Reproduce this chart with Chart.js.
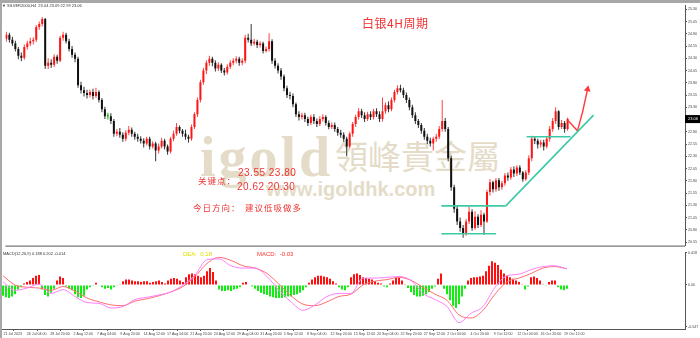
<!DOCTYPE html>
<html>
<head>
<meta charset="utf-8">
<script src="https://cdn.jsdelivr.net/npm/chart.js@4"></script>
<style>
body{margin:0;background:#fff;}
#wrap{position:relative;width:700px;height:338px;overflow:hidden;background:#fff;font-family:"Liberation Sans",Arial,sans-serif;}
#topbar{position:absolute;left:0;top:0;width:700px;height:3px;background:#a8a8a8;z-index:5}
#leftbar{position:absolute;left:0;top:0;width:2px;height:338px;background:#a8a8a8;z-index:5}
canvas{position:absolute;left:0;z-index:2}
#cMain{top:0}
#cMacd{top:251px}
.wm{position:absolute;color:#e4dcc8;z-index:1;white-space:nowrap}
.red{position:absolute;color:#f03434;z-index:3;white-space:nowrap;line-height:1;font-family:"Noto Sans CJK SC",sans-serif}
.num{font:10px/1 "Liberation Sans",sans-serif;letter-spacing:0.5px}
.tiny{position:absolute;z-index:3;white-space:nowrap;line-height:1}
</style>
</head>
<body>
<div id="wrap">
  <div id="topbar"></div>
  <div id="leftbar"></div>
  <div class="wm" style="left:200px;top:129px;font:bold 56px/1 'Liberation Serif',serif;letter-spacing:3px">igold</div>
  <div class="wm" style="left:335px;top:139px;font:33px/1 'Noto Sans CJK TC',sans-serif;">領峰貴金屬</div>
  <div class="wm" style="left:266px;top:179px;font:bold 20px/1 'Liberation Sans',sans-serif;">www.igoldhk.com</div>
  <canvas id="cMain" width="700" height="251"></canvas>
  <canvas id="cMacd" width="700" height="87"></canvas>
  <div class="tiny" style="left:2px;top:3.5px;font-size:4px;color:#333">▼ SILVER2000,H4&nbsp;&nbsp;23.04 23.09 22.99 23.06</div>
  <div class="red" style="left:362px;top:17px;font-size:12px;letter-spacing:0.5px">白银4H周期</div>
  <div class="red" style="left:198px;top:176px;font-size:8.5px;letter-spacing:1px">关键点：</div>
  <div class="red num" style="left:238px;top:167.5px">23.55 23.80</div>
  <div class="red num" style="left:237px;top:181.5px">20.62 20.30</div>
  <div class="red" style="left:193px;top:202.5px;font-size:8.5px;letter-spacing:1px">今日方向：</div>
  <div class="red" style="left:245px;top:202.5px;font-size:8.5px;letter-spacing:1px">建议低吸做多</div>
  <div class="tiny" style="left:3px;top:252px;font-size:4px;color:#333">MACD(12,26,9) 0.188 0.202 -0.014</div>
  <div class="tiny" style="left:183px;top:251px;font-size:6px;color:#e0e000">DEA:&nbsp;&nbsp;0.18</div>
  <div class="tiny" style="left:257px;top:251px;font-size:6px;color:#ff3030">MACD:&nbsp;&nbsp;-0.03</div>
</div>
<script>
// 4H candles (one entry per plotted candle), first open given separately
const firstOpen = 24.70;
const closes = [
  24.78,24.68,24.60,24.49,24.35,24.31,24.53,24.60,24.65,24.68,
  24.94,25.00,25.10,24.15,24.21,24.17,24.33,24.25,24.72,24.78,
  24.65,24.49,24.37,24.29,23.75,23.65,23.59,23.55,23.61,23.53,
  23.61,23.45,23.26,23.12,23.12,23.02,22.76,22.80,22.74,22.66,
  22.78,22.84,22.76,22.70,22.66,22.62,22.56,22.66,22.50,22.56,
  22.42,22.50,22.62,22.50,22.40,22.66,22.76,22.90,22.82,22.76,
  22.70,22.66,22.90,23.16,23.45,23.81,24.05,24.21,24.29,24.21,
  24.09,24.17,24.05,24.01,24.13,24.21,24.25,24.29,24.21,24.25,
  24.72,24.68,24.60,24.64,24.57,24.60,24.45,24.49,24.65,24.25,
  24.15,24.05,23.93,23.69,23.55,23.53,23.36,23.16,23.10,23.14,
  23.06,22.98,23.10,23.02,22.96,23.06,23.10,22.98,22.90,22.94,
  22.86,22.78,22.74,22.66,22.50,22.76,22.96,23.10,23.22,23.14,
  23.06,23.16,23.10,23.22,23.16,23.06,23.22,23.34,23.26,23.45,
  23.61,23.69,23.65,23.55,23.45,23.30,23.14,23.02,22.94,22.82,
  22.70,22.62,22.56,22.66,22.70,22.86,23.02,22.86,22.26,21.67,
  21.23,20.97,20.84,20.72,20.97,21.17,20.84,21.07,20.90,21.11,
  20.97,21.57,21.77,21.63,21.81,21.67,21.75,21.91,21.87,22.03,
  21.95,22.07,21.97,21.83,21.97,22.26,22.66,22.62,22.54,22.58,
  22.50,22.66,22.86,23.02,23.22,22.90,22.98,22.86,23.06
];
const highs = [
  24.84,24.82,24.74,24.66,24.53,24.42,24.58,24.66,24.72,24.73,
  24.98,25.05,25.14,25.12,24.30,24.28,24.38,24.37,24.76,24.84,
  24.82,24.70,24.55,24.42,24.33,23.82,23.72,23.66,23.66,23.68,
  23.70,23.65,23.49,23.31,23.19,23.18,23.06,22.86,22.88,22.79,
  22.83,22.92,22.89,22.80,22.76,22.71,22.67,22.70,22.70,22.61,
  22.60,22.56,22.68,22.66,22.54,22.70,22.82,22.98,22.93,22.86,
  22.84,22.74,22.95,23.20,23.50,23.86,24.10,24.26,24.35,24.33,
  24.26,24.22,24.20,24.10,24.18,24.26,24.30,24.34,24.33,24.30,
  24.78,24.80,25.00,24.70,24.68,24.65,24.64,24.54,24.81,24.69,
  24.30,24.20,24.10,23.97,23.74,23.62,23.58,23.40,23.22,23.19,
  23.19,23.11,23.15,23.16,23.07,23.12,23.16,23.14,23.03,22.99,
  22.99,22.90,22.84,22.79,22.70,22.80,23.00,23.15,23.28,23.27,
  23.20,23.21,23.22,23.27,23.28,23.22,23.50,23.40,23.42,23.50,
  23.66,23.75,23.76,23.70,23.60,23.50,23.35,23.20,23.06,22.98,
  22.88,22.76,22.68,22.70,22.76,22.92,23.45,23.08,22.90,22.31,
  21.72,21.30,21.05,20.90,21.02,21.28,21.22,21.18,21.12,21.20,
  21.15,21.62,21.84,21.80,21.86,21.86,21.80,21.96,21.97,22.08,
  22.10,22.12,22.12,22.00,22.02,22.32,22.72,22.70,22.66,22.64,
  22.64,22.70,22.92,23.08,23.30,23.24,23.04,23.02,23.09
];
const lows = [
  24.64,24.62,24.55,24.44,24.28,24.24,24.27,24.48,24.55,24.58,
  24.63,24.88,24.95,24.08,24.08,24.10,24.12,24.19,24.22,24.66,
  24.60,24.44,24.31,24.22,23.70,23.58,23.52,23.48,23.50,23.46,
  23.49,23.40,23.20,23.06,23.05,22.96,22.70,22.71,22.68,22.60,
  22.61,22.73,22.70,22.64,22.60,22.56,22.48,22.52,22.44,22.46,
  22.20,22.36,22.46,22.44,22.33,22.36,22.61,22.72,22.77,22.70,
  22.64,22.58,22.62,22.86,23.10,23.40,23.76,23.98,24.15,24.14,
  24.03,24.04,24.00,23.95,23.97,24.08,24.16,24.20,24.15,24.16,
  24.20,24.62,24.55,24.56,24.51,24.52,24.40,24.42,24.44,24.19,
  24.09,23.99,23.86,23.63,23.49,23.46,23.30,23.10,23.03,23.05,
  23.00,22.92,22.94,22.96,22.90,22.92,23.01,22.93,22.85,22.86,
  22.80,22.72,22.68,22.60,22.30,22.46,22.70,22.90,23.05,23.08,
  23.00,23.02,23.04,23.05,23.10,23.00,23.01,23.17,23.20,23.22,
  23.40,23.56,23.60,23.49,23.39,23.24,23.08,22.96,22.88,22.76,
  22.64,22.55,22.50,22.42,22.60,22.65,22.80,22.80,22.20,21.60,
  21.15,20.90,20.76,20.64,20.68,20.92,20.78,20.80,20.84,20.86,
  20.70,20.94,21.50,21.56,21.58,21.60,21.62,21.70,21.80,21.82,
  21.88,21.90,21.92,21.78,21.80,21.92,22.20,22.55,22.46,22.48,
  22.42,22.46,22.60,22.80,22.96,22.84,22.86,22.78,22.82
];

// MACD histogram, one per candle
const macdHist = [
  -0.14,-0.16,-0.17,-0.15,-0.12,-0.06,-0.03,0.02,0.04,0.06,
  0.09,0.12,0.13,-0.06,-0.13,-0.15,-0.10,-0.05,0.06,0.11,
  0.09,-0.02,-0.05,-0.07,-0.12,-0.16,-0.17,-0.14,-0.06,-0.03,
  -0.01,0.03,0.00,-0.03,-0.05,-0.04,-0.06,-0.03,-0.01,0.01,
  0.05,0.07,0.07,0.06,0.05,0.05,0.04,0.05,0.05,0.03,
  0.04,0.05,0.06,0.04,0.02,0.06,0.08,0.09,0.08,0.06,
  0.04,0.10,0.14,0.15,0.14,0.12,0.10,0.12,0.18,0.22,
  0.17,0.06,-0.06,-0.08,-0.08,-0.07,-0.08,-0.06,-0.05,-0.03,
  0.03,0.04,0.00,-0.02,-0.05,-0.08,-0.10,-0.12,-0.13,-0.15,
  -0.16,-0.17,-0.17,-0.17,-0.16,-0.15,-0.15,-0.13,-0.12,-0.10,
  -0.07,-0.03,0.03,0.07,0.10,0.12,0.12,0.11,0.10,0.08,
  0.05,0.02,-0.03,-0.06,-0.07,-0.03,0.10,0.14,0.15,0.13,
  0.10,0.09,0.08,0.07,0.05,0.03,0.02,-0.02,-0.03,0.02,
  0.06,0.09,0.09,0.06,0.01,-0.04,-0.09,-0.13,-0.15,-0.15,
  -0.14,-0.12,-0.09,-0.05,-0.02,0.08,0.15,-0.05,-0.12,-0.20,
  -0.27,-0.30,-0.25,-0.15,-0.05,0.06,0.09,0.10,0.10,0.11,
  0.12,0.18,0.25,0.31,0.29,0.26,0.20,0.15,0.12,0.10,
  0.08,0.06,0.04,0.01,-0.06,-0.02,0.10,0.11,0.09,0.06,
  0.01,-0.01,0.04,0.06,0.06,-0.03,-0.06,-0.07,-0.05
];
// MACD lines, read every 4th candle
const lineStep = 4;
const difLine = [
  0.04,-0.07,-0.04,0.01,-0.11,-0.06,-0.15,-0.23,-0.24,-0.30,
  -0.28,-0.19,-0.16,-0.13,-0.09,0.00,0.13,0.33,0.34,0.25,
  0.22,0.22,0.11,-0.07,-0.22,-0.33,-0.26,-0.15,-0.11,-0.11,
  0.09,0.09,0.10,0.11,0.06,-0.11,-0.19,-0.28,-0.49,-0.37,
  -0.28,-0.03,0.12,0.14,0.20,0.24,0.25,0.21
];
const deaLine = [
  0.12,0.00,-0.03,-0.04,-0.07,-0.02,-0.08,-0.17,-0.22,-0.26,
  -0.27,-0.21,-0.18,-0.14,-0.09,-0.02,0.11,0.28,0.36,0.32,
  0.25,0.22,0.15,0.01,-0.14,-0.25,-0.27,-0.22,-0.15,-0.12,
  0.00,0.05,0.07,0.10,0.06,-0.03,-0.12,-0.20,-0.39,-0.43,
  -0.33,-0.12,0.04,0.09,0.15,0.22,0.24,0.21
];

const priceTicks = [25.30,25.05,24.80,24.55,24.30,24.05,23.80,23.55,23.30,23.05,
  22.80,22.55,22.30,22.05,21.80,21.55,21.30,21.05,20.80,20.55];
const macdTicks = [0.418, 0, -0.547];
const macdTickLabels = ["0.418", "0.00", "-0.547"];
const timeLabels = ["21 Jul 2023","26 Jul 04:00","28 Jul 20:00","2 Aug 12:00","7 Aug 04:00",
  "9 Aug 20:00","14 Aug 12:00","17 Aug 04:00","21 Aug 20:00","24 Aug 12:00","29 Aug 04:00",
  "31 Aug 20:00","5 Sep 12:00","8 Sep 04:00","12 Sep 20:00","15 Sep 12:00","20 Sep 04:00",
  "22 Sep 20:00","27 Sep 12:00","2 Oct 04:00","4 Oct 20:00","9 Oct 12:00","12 Oct 04:00",
  "16 Oct 20:00","19 Oct 12:00"];

// drawn trend lines (candle index, price)
const boxTop = [[145.7,21.29],[167.3,21.29]];
const boxBottom = [[145.7,20.72],[164,20.72]];
const trendUp = [[167.3,21.29],[196.7,23.14]];
const resistLine = [[174.3,22.70],[189,22.70]];
const projection = [[188,23.04],[191.3,22.82],[193,23.20],[194.7,23.67]];

const X_MIN = -1/3, X_MAX = 682/3;
const TEAL = "#3cc9a6";
const tinyFont = { size: 3.6, family: "Liberation Sans" };

const opens = closes.map((c, i) => i === 0 ? firstOpen : closes[i - 1]);
const bodies = closes.map((c, i) => ({ x: i, y: [opens[i], c] }));
const wicks = closes.map((c, i) => ({
  x: i, y: [Math.min(lows[i], opens[i], c), Math.max(highs[i], opens[i], c)]
}));
const candleColor = (i, up, down, doji) =>
  closes[i] > opens[i] ? up : (closes[i] < opens[i] ? down : doji);

const toPts = arr => arr.map(p => ({ x: p[0], y: p[1] }));
const trendSet = pts => ({
  type: "line", data: toPts(pts), borderColor: TEAL, borderWidth: 1.6,
  pointRadius: 0, order: -1
});

const mainFrame = {
  id: "mainFrame",
  afterDraw(chart) {
    const { ctx, chartArea } = chart;
    ctx.save();
    ctx.strokeStyle = "#555";
    ctx.lineWidth = 1;
    ctx.beginPath();
    ctx.moveTo(chartArea.left, chartArea.bottom + 0.5);
    ctx.lineTo(chartArea.right, chartArea.bottom + 0.5);
    ctx.stroke();
    const last = closes[closes.length - 1];
    const yPix = chart.scales.y.getPixelForValue(last);
    ctx.fillStyle = "#000";
    ctx.fillRect(chartArea.right, yPix - 4, 15, 8);
    ctx.fillStyle = "#fff";
    ctx.font = "4px Liberation Sans";
    ctx.textBaseline = "middle";
    ctx.fillText(last.toFixed(2), chartArea.right + 3, yPix);
    ctx.restore();
  }
};

new Chart(document.getElementById("cMain"), {
  type: "bar",
  data: {
    datasets: [
      {
        data: bodies, grouped: false, barThickness: 2, minBarLength: 1,
        inflateAmount: 0, order: 1,
        backgroundColor: c => candleColor(c.dataIndex, "#ff1414", "#111111", "#00b000")
      },
      {
        data: wicks, grouped: false, barThickness: 1, inflateAmount: 0, order: 2,
        backgroundColor: c => candleColor(c.dataIndex, "#ff4040", "#333333", "#00b000")
      },
      trendSet(boxTop),
      trendSet(boxBottom),
      trendSet(trendUp),
      trendSet(resistLine),
      {
        type: "line", data: toPts(projection), borderColor: "#ff3a3a", borderWidth: 1.4,
        pointRadius: [0, 0, 0, 2.5], pointStyle: "triangle", pointRotation: 12,
        pointBackgroundColor: "#ff3a3a", pointBorderColor: "#ff3a3a", order: -1
      }
    ]
  },
  options: {
    responsive: false,
    animation: false,
    events: [],
    layout: { padding: { left: 2, top: 3, right: 0, bottom: 1 } },
    plugins: { legend: { display: false }, tooltip: { enabled: false } },
    scales: {
      x: { type: "linear", display: false, min: X_MIN, max: X_MAX, offset: false },
      y: {
        position: "right", min: 20.479, max: 25.379,
        afterBuildTicks: s => { s.ticks = priceTicks.map(v => ({ value: v })); },
        afterFit: s => { s.width = 15; s.paddingTop = 0; s.paddingBottom = 0; },
        ticks: { autoSkip: false, padding: 1, font: tinyFont, color: "#444",
          callback: v => v.toFixed(2) },
        grid: { drawOnChartArea: false, tickLength: 2, color: "#555" },
        border: { color: "#555" }
      }
    }
  },
  plugins: [mainFrame]
});

new Chart(document.getElementById("cMacd"), {
  type: "bar",
  data: {
    datasets: [
      {
        data: macdHist.map((v, i) => ({ x: i, y: v })),
        barThickness: 2, inflateAmount: 0, order: 2,
        backgroundColor: c => (macdHist[c.dataIndex] >= 0 ? "#ff1010" : "#12ee12")
      },
      {
        type: "line", data: difLine.map((v, k) => ({ x: k * lineStep, y: v })),
        borderColor: "#ff80ff", borderWidth: 1, pointRadius: 0,
        cubicInterpolationMode: "monotone", order: 0
      },
      {
        type: "line", data: deaLine.map((v, k) => ({ x: k * lineStep, y: v })),
        borderColor: "#ff7070", borderWidth: 1, pointRadius: 0,
        cubicInterpolationMode: "monotone", order: 1
      }
    ]
  },
  options: {
    responsive: false,
    animation: false,
    events: [],
    layout: { padding: { left: 2, top: 1, right: 0, bottom: 0 } },
    plugins: { legend: { display: false }, tooltip: { enabled: false } },
    scales: {
      x: {
        type: "linear", min: X_MIN, max: X_MAX, offset: false,
        // one label every 16 bars of the original chart
        afterBuildTicks: s => { s.ticks = timeLabels.map((t, n) => ({ value: n * 23.35 / 3 - 1 / 3 })); },
        afterFit: s => { s.height = 9; s.paddingLeft = 0; s.paddingRight = 0; },
        ticks: { autoSkip: false, maxRotation: 0, minRotation: 0, align: "start",
          labelOffset: 1.5, padding: 0.5, font: tinyFont, color: "#444",
          callback: (v, i) => timeLabels[i] },
        grid: { drawOnChartArea: false, tickLength: 2, color: "#555" },
        border: { color: "#555" }
      },
      y: {
        position: "right", min: -0.574, max: 0.430,
        afterBuildTicks: s => { s.ticks = macdTicks.map(v => ({ value: v })); },
        afterFit: s => { s.width = 15; s.paddingTop = 0; s.paddingBottom = 0; },
        ticks: { autoSkip: false, padding: 1, font: tinyFont, color: "#444",
          callback: (v, i) => macdTickLabels[i] },
        grid: { drawOnChartArea: false, tickLength: 2, color: "#555" },
        border: { color: "#555" }
      }
    }
  }
});
</script>
</body>
</html>
